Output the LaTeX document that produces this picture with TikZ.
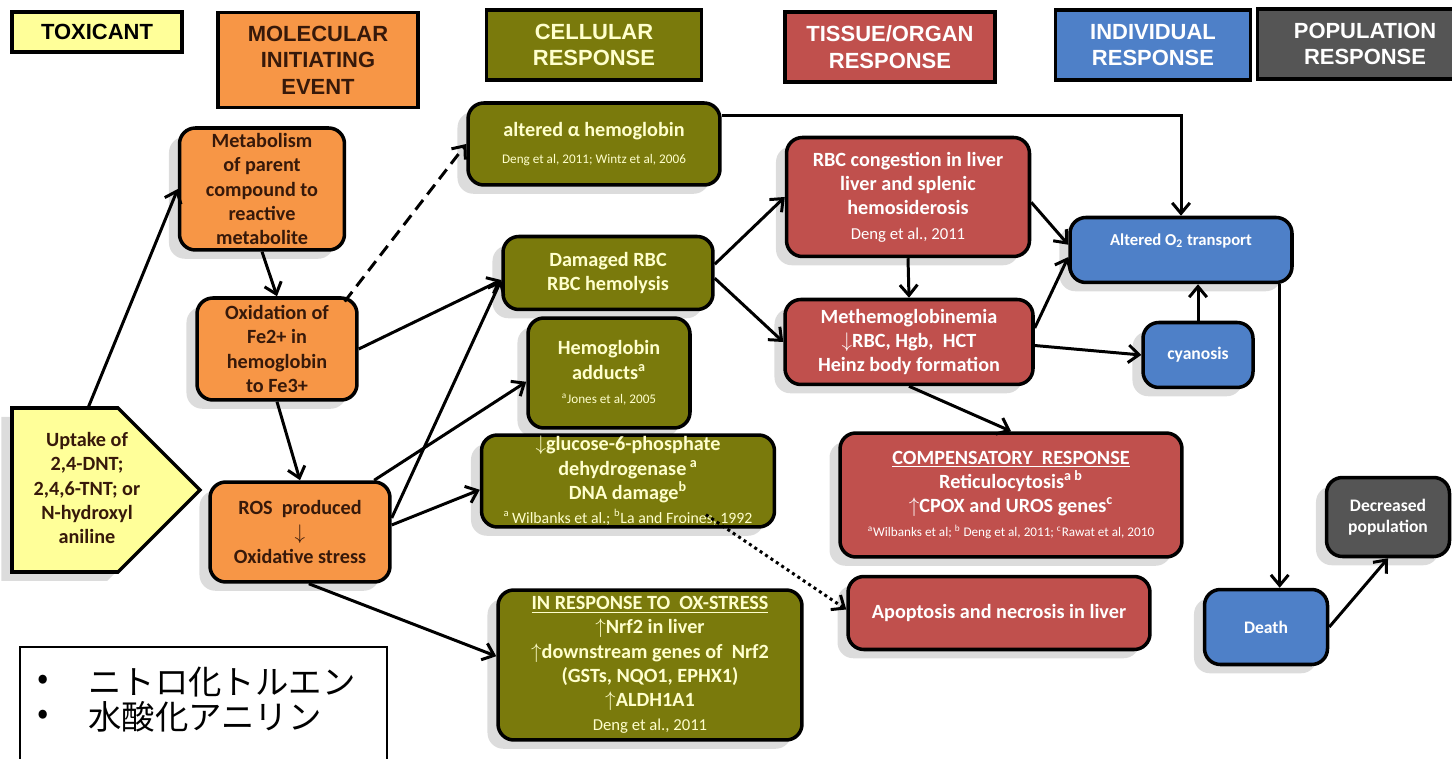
\documentclass[tikz,border=0pt]{standalone}
\usepackage{fontspec}
\setmainfont{Carlito}
\newfontfamily\hdfont{Liberation Sans}
\newfontfamily\jpfont{Noto Sans CJK JP}
\usetikzlibrary{arrows.meta,shadows}

\definecolor{toxyellow}{RGB}{255,255,153}
\definecolor{mieorange}{RGB}{247,150,70}
\definecolor{mietext}{RGB}{55,25,10}
\definecolor{cellolive}{RGB}{122,122,12}
\definecolor{celltext}{RGB}{255,255,205}
\definecolor{tissred}{RGB}{192,80,77}
\definecolor{indblue}{RGB}{78,128,200}
\definecolor{popgray}{RGB}{85,85,85}

\newcommand{\src}[1]{{\mdseries\fontsize{7.5}{9}\selectfont #1}}
\newcommand{\dnarr}{$\downarrow$}
\newcommand{\uparr}{$\uparrow$}

\begin{document}
\begin{tikzpicture}[x=0.02cm, y=-0.02cm,
    header/.style={draw=black, line width=2.2pt, align=center, inner sep=0pt,
      font=\hdfont\bfseries\fontsize{12.5}{15}\selectfont},
    box/.style={draw=black, line width=2pt, rounded corners=9pt, align=center,
      inner sep=0pt, font=\bfseries\fontsize{11.5}{13.8}\selectfont,
      drop shadow={shadow xshift=-6pt, shadow yshift=-5pt, fill=black!30, opacity=.45}},
    mie/.style={box, fill=mieorange, text=mietext},
    cell/.style={box, fill=cellolive, text=celltext},
    tiss/.style={box, fill=tissred, text=white},
    ind/.style={box, fill=indblue, text=white, font=\bfseries\fontsize{10}{12}\selectfont},
    pop/.style={box, fill=popgray, text=white, font=\bfseries\fontsize{10}{12}\selectfont},
    arr/.style={-{Straight Barb[length=6pt,width=10pt]}, line width=1.7pt},
  ]
  \useasboundingbox (0,0) rectangle (1452,759);

  % column headers
  \node[header, fill=toxyellow, minimum width=3.4cm, minimum height=0.8cm] (toxh) at (97,32) {TOXICANT};
  \node[header, fill=mieorange, text=mietext, minimum width=4cm, minimum height=1.9cm] (mieh) at (318,60) {MOLECULAR\\INITIATING\\EVENT};
  \node[header, fill=cellolive, text=celltext, minimum width=4.3cm, minimum height=1.4cm] (cellh) at (594,45) {CELLULAR\\RESPONSE};
  \node[header, fill=tissred, text=white, minimum width=4.2cm, minimum height=1.4cm] (tissh) at (890,47) {TISSUE/ORGAN\\RESPONSE};
  \node[header, fill=indblue, text=white, minimum width=3.9cm, minimum height=1.4cm] (indh) at (1153,45) {INDIVIDUAL\\RESPONSE};
  \node[header, fill=popgray, text=white, minimum width=4.3cm, minimum height=1.4cm] (poph) at (1365,44) {POPULATION\\RESPONSE};

  % toxicant
  \draw[line width=2pt, fill=toxyellow, drop shadow={shadow xshift=-6pt, shadow yshift=-5pt, fill=black!30, opacity=.45}]
    (12,408) -- (118,408) -- (200,490) -- (118,572) -- (12,572) -- cycle;
  \node[font=\bfseries\fontsize{11.5}{13.8}\selectfont, text=mietext, align=center] (uptake) at (87,488)
    {Uptake of\\2,4-DNT;\\2,4,6-TNT; or\\N-hydroxyl\\aniline};
  \coordinate (uptaketop) at (88,408);

  % molecular initiating event
  \node[mie, minimum width=3.3cm, minimum height=2.44cm] (metab) at (262,189) {Metabolism\\of parent\\compound to\\reactive\\metabolite};
  \node[mie, minimum width=3.2cm, minimum height=2.04cm] (oxid) at (277,349) {Oxidation of\\Fe2+ in\\hemoglobin\\to Fe3+};
  \node[mie, minimum width=3.6cm, minimum height=2cm] (ros) at (300,532) {ROS\ \ produced\\\dnarr\\Oxidative stress};

  % cellular
  \node[cell, minimum width=5.04cm, minimum height=1.64cm] (althb) at (594,144) {altered α hemoglobin\\[2pt]\src{Deng et al, 2011; Wintz et al, 2006}};
  \node[cell, minimum width=4.2cm, minimum height=1.46cm] (dmg) at (608,273) {Damaged RBC\\RBC hemolysis};
  \node[cell, minimum width=3.24cm, minimum height=2.2cm] (adduct) at (609,373) {Hemoglobin\\adducts\textsuperscript{a}\\\src{\textsuperscript{a}Jones et al, 2005}};
  \node[cell, minimum width=5.86cm, minimum height=1.84cm] (gsixpd) at (628,481) {\dnarr glucose-6-phosphate\\dehydrogenase\,\textsuperscript{a}\\DNA damage\textsuperscript{b}\\{\mdseries\fontsize{9}{10}\selectfont\textsuperscript{a}\,Wilbanks et al.; \textsuperscript{b}La and Froines, 1992}};
  \node[cell, minimum width=6.08cm, minimum height=3cm] (oxresp) at (650,665) {\underline{IN RESPONSE TO\ \ OX-STRESS}\\\uparr Nrf2 in liver\\\uparr downstream genes of\ \ Nrf2\\(GSTs, NQO1, EPHX1)\\\uparr ALDH1A1\\{\mdseries\fontsize{9.5}{11}\selectfont Deng et al., 2011}};

  % tissue/organ
  \node[tiss, minimum width=4.86cm, minimum height=2.38cm] (rbccong) at (908,197) {RBC congestion in liver\\liver and splenic\\hemosiderosis\\{\mdseries\fontsize{9.5}{11}\selectfont Deng et al., 2011}};
  \node[tiss, minimum width=4.96cm, minimum height=1.7cm] (methb) at (909,342) {Methemoglobinemia\\\dnarr RBC, Hgb,\ \ HCT\\Heinz body formation};
  \node[tiss, minimum width=6.84cm, minimum height=2.48cm] (comp) at (1011,495) {\underline{COMPENSATORY\ \ RESPONSE}\\Reticulocytosis\textsuperscript{a b}\\\uparr CPOX and UROS genes\textsuperscript{c}\\\src{\textsuperscript{a}Wilbanks et al; \textsuperscript{b} Deng et al, 2011; \textsuperscript{c}Rawat et al, 2010}};
  \node[tiss, minimum width=6.04cm, minimum height=1.46cm] (apopt) at (999,613) {Apoptosis and necrosis in liver};

  % individual / population
  \node[ind, minimum width=4.44cm, minimum height=1.3cm] (otwo) at (1181,250) {};
  \node[font=\bfseries\fontsize{9.5}{11}\selectfont, text=white] (otwotxt) at (1181,241) {Altered O\textsubscript{2} transport};
  \node[ind, minimum width=2.2cm, minimum height=1.3cm] (cyan) at (1198,355) {cyanosis};
  \node[ind, minimum width=2.46cm, minimum height=1.5cm] (death) at (1266,627) {Death};
  \node[pop, minimum width=2.46cm, minimum height=1.58cm] (decpop) at (1388,517) {Decreased\\population};

  % connectors
  \draw[arr] (uptaketop) -- (metab.west);
  \draw[arr] (metab.south) -- (oxid.north);
  \draw[arr, dash pattern=on 7pt off 4pt] ([xshift=-8pt,yshift=-3pt]oxid.north east) -- (althb.west);
  \draw[arr] (oxid.east) -- ([yshift=-4pt]dmg.west);
  \draw[arr] (oxid.south) -- (ros.north);
  \draw[arr] ([xshift=-10pt]ros.north east) -- ([yshift=-5pt]adduct.west);
  \draw[arr] ([yshift=8pt]ros.east) -- ([yshift=-4pt]dmg.west);
  \draw[arr] ([yshift=4pt]ros.east) -- ([yshift=-5pt]gsixpd.west);
  \draw[arr] ([xshift=5pt]ros.south) -- ([yshift=5pt]oxresp.west);
  \draw[arr] ([yshift=16pt]althb.east) -| (otwo.north);
  \draw[arr] ([yshift=5pt]dmg.east) -- (rbccong.west);
  \draw[arr] ([yshift=-3pt]dmg.east) -- (methb.west);
  \draw[arr] (rbccong.south) -- (methb.north);
  \draw[arr] ([yshift=-3pt]rbccong.east) -- ([yshift=3pt]otwo.west);
  \draw[arr] ([yshift=8pt]methb.east) -- ([yshift=-4pt]otwo.west);
  \draw[arr] ([yshift=-2pt]methb.east) -- (cyan.west);
  \draw[arr] (cyan.north) -- (cyan.north |- otwo.south);
  \draw[arr] ([xshift=-8pt]otwo.south east) -- ([xshift=-8pt]otwo.south east |- death.north);
  \draw[arr] (death.east) -- (decpop.south);
  \draw[arr] (methb.south) -- (comp.north);
  \draw[arr, dotted] ([xshift=-40pt,yshift=8pt]gsixpd.south east) -- ([yshift=2pt]apopt.west);

  % japanese note
  \draw[line width=0.7pt] (20,780) -- (20,647) -- (387,647) -- (387,780);
  \node[font=\jpfont\fontsize{19}{22}\selectfont] (bulone) at (43,682) {•};
  \node[font=\jpfont\fontsize{19}{22}\selectfont, anchor=west, inner sep=0pt] (jpone) at (88,682) {ニトロ化トルエン};
  \node[font=\jpfont\fontsize{19}{22}\selectfont] (bultwo) at (43,717) {•};
  \node[font=\jpfont\fontsize{19}{22}\selectfont, anchor=west, inner sep=0pt] (jptwo) at (88,717) {水酸化アニリン};
\end{tikzpicture}
\end{document}
